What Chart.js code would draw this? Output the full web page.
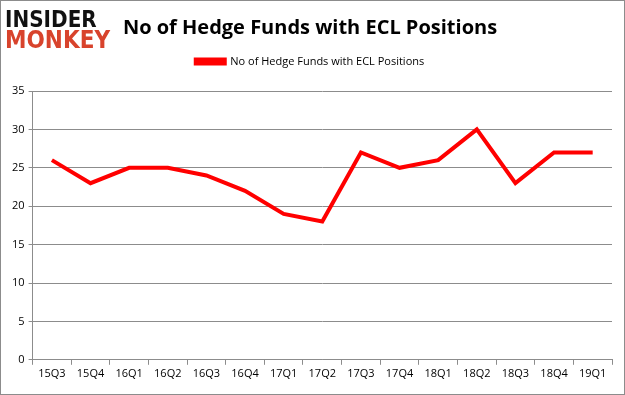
<!DOCTYPE html>
<html>
<head>
<meta charset="utf-8">
<script src="https://cdn.jsdelivr.net/npm/chart.js@4"></script>
<style>
  html, body { margin: 0; padding: 0; background: #fff; }
  #box { width: 625px; height: 395px; }
</style>
</head>
<body>
<div id="box"><canvas id="grafica" width="625" height="395"></canvas></div>
<script>
// datos
const trimestres = ["15Q3", "15Q4", "16Q1", "16Q2", "16Q3", "16Q4", "17Q1", "17Q2",
  "17Q3", "17Q4", "18Q1", "18Q2", "18Q3", "18Q4", "19Q1"];
const fondos = [26, 23, 25, 25, 24, 22, 19, 18, 27, 25, 26, 30, 23, 27, 27];
const serie = "No of Hedge Funds with ECL Positions";
const titulo = "No of Hedge Funds with ECL Positions";

// logo, marco y espacio bajo la leyenda
const decoracion = {
  id: "decoracion",
  afterInit(chart) {
    const fitOriginal = chart.legend.fit;
    chart.legend.fit = function () {
      fitOriginal.call(this);
      this.height += 14;
    };
  },
  afterDraw(chart) {
    const c = chart.ctx;
    c.save();
    c.strokeStyle = "#8c8c8c";
    c.lineWidth = 1;
    c.strokeRect(0.5, 0.5, chart.width - 1, chart.height - 1);
    c.textBaseline = "alphabetic";
    c.font = "bold 20px 'DejaVu Sans'";
    c.save();
    c.translate(5, 27);
    c.scale(1, 1.18);
    c.fillStyle = "#111";
    c.fillText("INSIDER", 0, 0);
    c.restore();
    c.save();
    c.translate(5, 48);
    c.scale(1.08, 1.22);
    c.fillStyle = "#d8432c";
    c.fillText("MONKEY", 0, 0);
    c.restore();
    c.restore();
  }
};

const ctx = document.getElementById("grafica").getContext("2d");

new Chart(ctx, {
  type: "line",
  data: {
    labels: trimestres,
    datasets: [{
      label: serie,
      data: fondos,
      borderColor: "#ff0000",
      backgroundColor: "#ff0000",
      borderWidth: 4,
      pointRadius: 0,
      tension: 0
    }]
  },
  options: {
    responsive: false,
    animation: false,
    layout: { padding: { left: 8, right: 13, top: 6, bottom: 13 } },
    plugins: {
      title: {
        display: true,
        text: titulo,
        color: "#000",
        font: { family: "'Open Sans', 'Liberation Sans'", size: 20, weight: "bold" },
        padding: { top: 10, bottom: 10 }
      },
      legend: {
        display: true,
        labels: {
          color: "#000",
          font: { family: "'Open Sans', 'Liberation Sans'", size: 11 },
          boxWidth: 29,
          boxHeight: 4,
          padding: 6
        }
      },
      tooltip: { enabled: false }
    },
    scales: {
      x: {
        offset: true,
        grid: {
          display: true,
          drawOnChartArea: false,
          drawTicks: true,
          tickLength: 5,
          color: "#8c8c8c",
          offset: true
        },
        border: { color: "#8c8c8c" },
        ticks: {
          color: "#000",
          font: { family: "'Open Sans', 'Liberation Sans'", size: 11 },
          maxRotation: 0,
          autoSkip: false,
          padding: 2
        }
      },
      y: {
        min: 0,
        max: 35,
        ticks: {
          stepSize: 5,
          color: "#000",
          font: { family: "'Open Sans', 'Liberation Sans'", size: 11 },
          padding: 4
        },
        grid: {
          color: "#8c8c8c",
          tickLength: 4
        },
        border: { color: "#8c8c8c" }
      }
    }
  },
  plugins: [decoracion]
});
</script>
</body>
</html>
